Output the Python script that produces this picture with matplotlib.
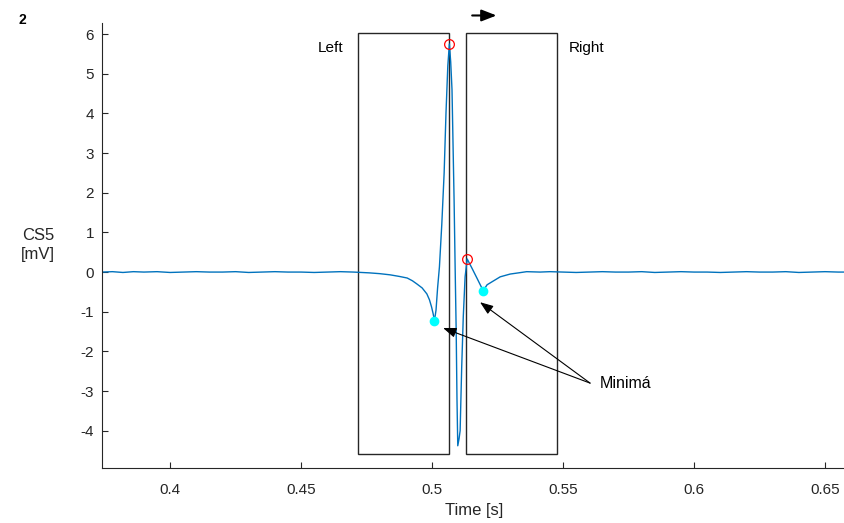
"""Recreate the CS5 ECG window plot (left/right search windows around the R peak)."""
import matplotlib.pyplot as plt
from matplotlib.patches import Rectangle

plt.rcParams['font.family'] = ['Liberation Sans', 'DejaVu Sans']
plt.rcParams['axes.unicode_minus'] = False

# signal samples: time [s] and voltage [mV]
time_s = [0.3742, 0.378, 0.382, 0.386, 0.390, 0.395, 0.400, 0.405, 0.410, 0.415,
          0.420, 0.425, 0.430, 0.435, 0.440, 0.445, 0.450, 0.455, 0.460, 0.465,
          0.470, 0.476, 0.480, 0.484, 0.4875, 0.4905, 0.4925, 0.4942, 0.4962,
          0.4980, 0.4990, 0.4998, 0.5004, 0.5009, 0.5015, 0.5021, 0.5028,
          0.5037, 0.5046, 0.5053, 0.5060, 0.5066, 0.5071, 0.5076, 0.5080,
          0.5084, 0.5088, 0.5092, 0.5095, 0.5098, 0.5103, 0.5107, 0.5113,
          0.5119, 0.5126, 0.5134, 0.5152, 0.5171, 0.5195, 0.5210, 0.5230,
          0.5260, 0.5298, 0.5330, 0.5361, 0.5412, 0.5450, 0.5500, 0.5550,
          0.5600, 0.5650, 0.5700, 0.5750, 0.5800, 0.5850, 0.5900, 0.5950,
          0.6000, 0.6050, 0.6100, 0.6150, 0.6200, 0.6250, 0.6300, 0.6350,
          0.6400, 0.6450, 0.6500, 0.6550, 0.6576]
voltage_mv = [0.00, 0.01, -0.01, 0.01, 0.00, 0.01, -0.01, 0.00, 0.01, 0.00,
              0.00, 0.01, -0.01, 0.00, 0.01, 0.00, 0.00, -0.01, 0.00, 0.01,
              0.00, -0.02, -0.04, -0.07, -0.11, -0.15, -0.22, -0.30, -0.40,
              -0.55, -0.70, -0.88, -1.05, -1.23, -0.96, -0.40, 0.13,
              1.20, 2.50, 4.00, 5.20, 5.75, 5.30, 4.60, 3.20,
              1.80, 0.10, -1.50, -3.20, -4.38, -4.20, -4.00, -2.40,
              -1.13, -0.12, 0.33, 0.10, -0.15, -0.47, -0.32, -0.24,
              -0.12, -0.05, -0.02, 0.01, 0.00, 0.01, 0.00, -0.01,
              0.00, 0.01, 0.00, 0.00, 0.01, -0.01, 0.00, 0.01,
              0.00, 0.00, -0.01, 0.00, 0.01, 0.00, 0.00, 0.01,
              -0.01, 0.00, 0.01, 0.00, 0.00]

# detected points
peak_t = [0.5066, 0.5134]
peak_v = [5.75, 0.33]
min_t = [0.5009, 0.5195]
min_v = [-1.23, -0.47]

# search windows: (start, end, bottom, top)
left_win = (0.4716, 0.5065, -4.60, 6.04)
right_win = (0.5130, 0.5476, -4.60, 6.04)

fig = plt.figure(figsize=(8.45, 5.23), dpi=100)
ax = fig.add_axes([0.1213, 0.1052, 0.8787, 0.8508])

ax.plot(time_s, voltage_mv, color='#0072BD', lw=1.0)
ax.plot(peak_t, peak_v, 'o', mfc='none', mec='red', ms=7, mew=0.9)
ax.plot(min_t, min_v, 'o', color='cyan', ms=6)

for x0, x1, y0, y1 in (left_win, right_win):
    ax.add_patch(Rectangle((x0, y0), x1 - x0, y1 - y0, fill=False,
                           ec='#262626', lw=1.0))

ax.text(0.4614, 5.64, 'Left', ha='center', va='center', fontsize=11)
ax.text(0.5588, 5.64, 'Right', ha='center', va='center', fontsize=11)

# direction arrow above the plot
ax.annotate('', xy=(0.5246, 6.47), xytext=(0.5153, 6.47), annotation_clip=False,
            arrowprops=dict(arrowstyle='-|>,head_length=0.9,head_width=0.35',
                            color='k', lw=1.5, shrinkA=0, shrinkB=0))

# arrows pointing to the minima
for tx, ty in ((0.5042, -1.41), (0.5183, -0.76)):
    ax.annotate('', xy=(tx, ty), xytext=(0.5603, -2.80),
                arrowprops=dict(arrowstyle='-|>,head_length=0.8,head_width=0.3',
                                color='k', lw=0.8, shrinkA=0, shrinkB=0))
ax.text(0.5641, -2.80, 'Minimá', ha='left', va='center', fontsize=11.5)

ax.set_xlim(0.3742, 0.6576)
ax.set_ylim(-4.94, 6.28)
ax.set_xticks([0.4, 0.45, 0.5, 0.55, 0.6, 0.65])
ax.set_xticklabels(['0.4', '0.45', '0.5', '0.55', '0.6', '0.65'])
ax.set_yticks(range(-4, 7))
ax.tick_params(direction='in', length=4, labelsize=11, colors='#262626',
               top=False, right=False)
ax.tick_params(axis='y', pad=6)
ax.tick_params(axis='x', pad=11)
ax.spines['top'].set_visible(False)
ax.spines['right'].set_visible(False)
for s in ('left', 'bottom'):
    ax.spines[s].set_color('#262626')
ax.set_xlabel('Time [s]', fontsize=12, color='#262626', labelpad=4)

fig.text(0.045, 0.531, 'CS5\n[mV]', ha='center', va='center', fontsize=12,
         color='#262626', linespacing=1.3)
fig.text(0.026, 0.962, '2', ha='center', va='center', fontsize=10,
         fontweight='bold')

fig.savefig('out.png', dpi=100)
